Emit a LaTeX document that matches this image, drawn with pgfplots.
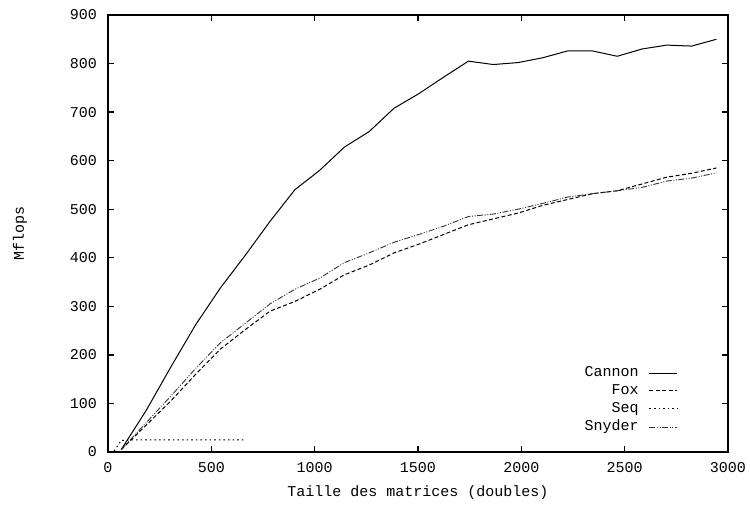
\documentclass[border=0pt]{standalone}
\usepackage{pgfplots}
\pgfplotsset{compat=1.18}
\usepackage{fontspec}
\setmainfont{Liberation Mono}

% Mflops measured per matrix size
\pgfplotstableread{
n    cannon fox snyder
64   5      5   5
184  85     55  60
304  175    105 115
424  262    160 172
544  338    212 225
664  405    252 265
784  475    290 305
904  540    310 335
1024 580    335 358
1144 628    365 390
1264 660    385 410
1384 708    410 432
1504 738    428 448
1624 772    448 465
1744 805    468 485
1864 798    480 490
1984 802    492 500
2104 812    508 512
2224 826    520 525
2344 826    532 532
2464 815    538 538
2584 830    552 545
2704 838    566 558
2824 836    574 564
2944 850    585 575
}\perfs

\begin{document}
\begin{tikzpicture}
\begin{axis}[
    scale only axis,
    width=310pt, height=218.5pt,
    xmin=0, xmax=3000, ymin=0, ymax=900,
    xtick={0,500,...,3000},
    ytick={0,100,...,900},
    tick align=inside,
    major tick length=3pt,
    axis line style={line width=0.7pt},
    every tick/.style={line width=0.7pt},
    font=\fontsize{7.5}{9}\selectfont,
    /pgf/number format/assume math mode=true,
    /pgf/number format/1000 sep={},
    yticklabel style={xshift=-2pt},
    xticklabel style={yshift=-1.5pt},
    xlabel={Taille des matrices (doubles)},
    ylabel={Mflops},
    every axis x label/.style={at={(axis description cs:0.5,-0.094)}, anchor=center},
    every axis y label/.style={at={(axis description cs:-0.142,0.5)}, anchor=center, rotate=90},
    legend plot pos=right,
    legend cell align=right,
    legend image code/.code={\draw[#1] (0pt,0pt) -- (14pt,0pt);},
    legend style={draw=none, fill=none, inner sep=0pt, row sep=0pt,
        at={(rel axis cs:0.92,0.035)}, anchor=south east,
        nodes={inner sep=1.2pt},
        /tikz/every odd column/.style={column sep=4pt}},
]
\addplot[black, line width=0.5pt] table[x=n, y=cannon] {\perfs};
\addplot[black, line width=0.5pt, dash pattern=on 2pt off 1.2pt] table[x=n, y=fox] {\perfs};
\addplot[black, line width=0.5pt, dash pattern=on 0.8pt off 1.5pt] coordinates {
    (30,2) (64,24) (128,25) (256,25) (384,25) (512,25) (660,25)
};
\addplot[black!80, line width=0.45pt, dash pattern=on 3pt off 0.8pt on 0.5pt off 0.8pt on 0.5pt off 0.8pt] table[x=n, y=snyder] {\perfs};
\legend{Cannon,Fox,Seq,Snyder}
\end{axis}
\pgfresetboundingbox
\useasboundingbox ([shift={(-54pt,-27pt)}]current axis.south west) rectangle ([shift={(11pt,7.5pt)}]current axis.north east);
\end{tikzpicture}
\end{document}
